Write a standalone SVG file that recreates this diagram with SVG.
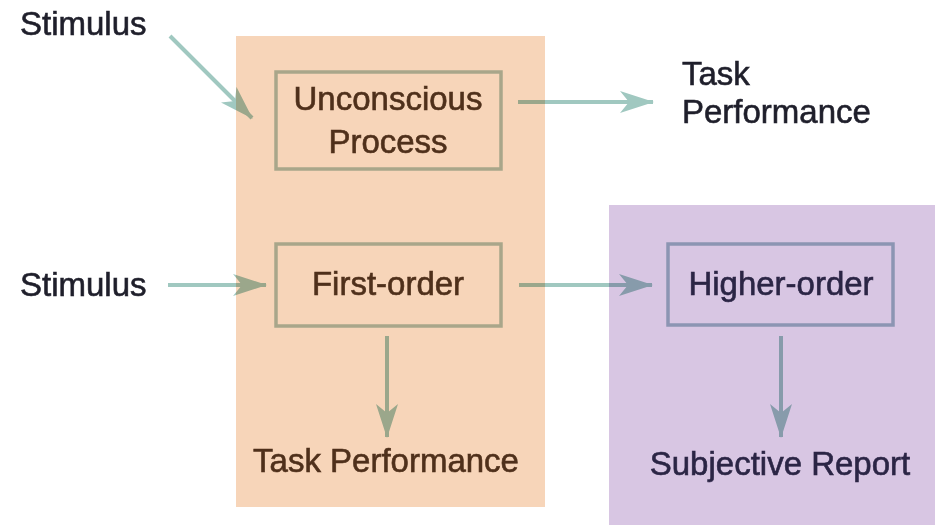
<svg xmlns="http://www.w3.org/2000/svg" width="935" height="525" viewBox="0 0 935 525">
  <style>
    text { font-family: "Liberation Sans", Arial, sans-serif; font-size: 33px; stroke-width: 0.6px; }
    .tw { fill: #1f1f2b; stroke: #1f1f2b; }
    .to { fill: #4f301b; stroke: #4f301b; }
    .tp { fill: #2b2545; stroke: #2b2545; }
    .mid { text-anchor: middle; }
    .boxo { fill: none; stroke: #a9a68a; stroke-width: 3.5; }
    .boxp { fill: none; stroke: #8c95b3; stroke-width: 3.5; }
    .conn { fill: none; stroke: #a0c8c0; stroke-width: 4; marker-end: url(#head); }
  </style>
  <defs>
    <marker id="head" markerUnits="userSpaceOnUse" viewBox="0 0 34 22" markerWidth="34" markerHeight="22" refX="33" refY="11" orient="auto">
      <path d="M0,0 L34,11 L0,22 L9,11 Z" fill="#a0c8c0"/>
    </marker>
  </defs>

  <rect id="panel-orange" x="236" y="36" width="309" height="471" fill="#f7d5b9"/>
  <rect id="panel-purple" x="609" y="205" width="326" height="320" fill="#d8c6e3"/>

  <g id="connectors" style="mix-blend-mode: multiply">
    <line class="conn" x1="170" y1="36" x2="252" y2="118"/>
    <line class="conn" x1="518" y1="102" x2="653" y2="102"/>
    <line class="conn" x1="168" y1="285" x2="266" y2="285"/>
    <line class="conn" x1="519" y1="285" x2="652" y2="285"/>
    <line class="conn" x1="387" y1="336" x2="387" y2="437"/>
    <line class="conn" x1="781" y1="336" x2="781" y2="437"/>
  </g>

  <g id="stimulus-top">
    <text class="tw" x="20" y="35">Stimulus</text>
  </g>
  <g id="unconscious-process">
    <rect class="boxo" x="276" y="72" width="225" height="97"/>
    <text class="to mid" x="388" y="110">Unconscious</text>
    <text class="to mid" x="388" y="153">Process</text>
  </g>
  <g id="task-performance-top">
    <text class="tw" x="682" y="85">Task</text>
    <text class="tw" x="682" y="123">Performance</text>
  </g>
  <g id="stimulus-bottom">
    <text class="tw" x="20" y="296">Stimulus</text>
  </g>
  <g id="first-order">
    <rect class="boxo" x="276" y="244" width="225" height="82"/>
    <text class="to mid" x="388" y="295">First-order</text>
  </g>
  <g id="task-performance-bottom">
    <text class="to mid" x="386" y="472">Task Performance</text>
  </g>
  <g id="higher-order">
    <rect class="boxp" x="668" y="244" width="225" height="81"/>
    <text class="tp mid" x="781" y="295">Higher-order</text>
  </g>
  <g id="subjective-report">
    <text class="tp mid" x="780" y="475">Subjective Report</text>
  </g>
</svg>
